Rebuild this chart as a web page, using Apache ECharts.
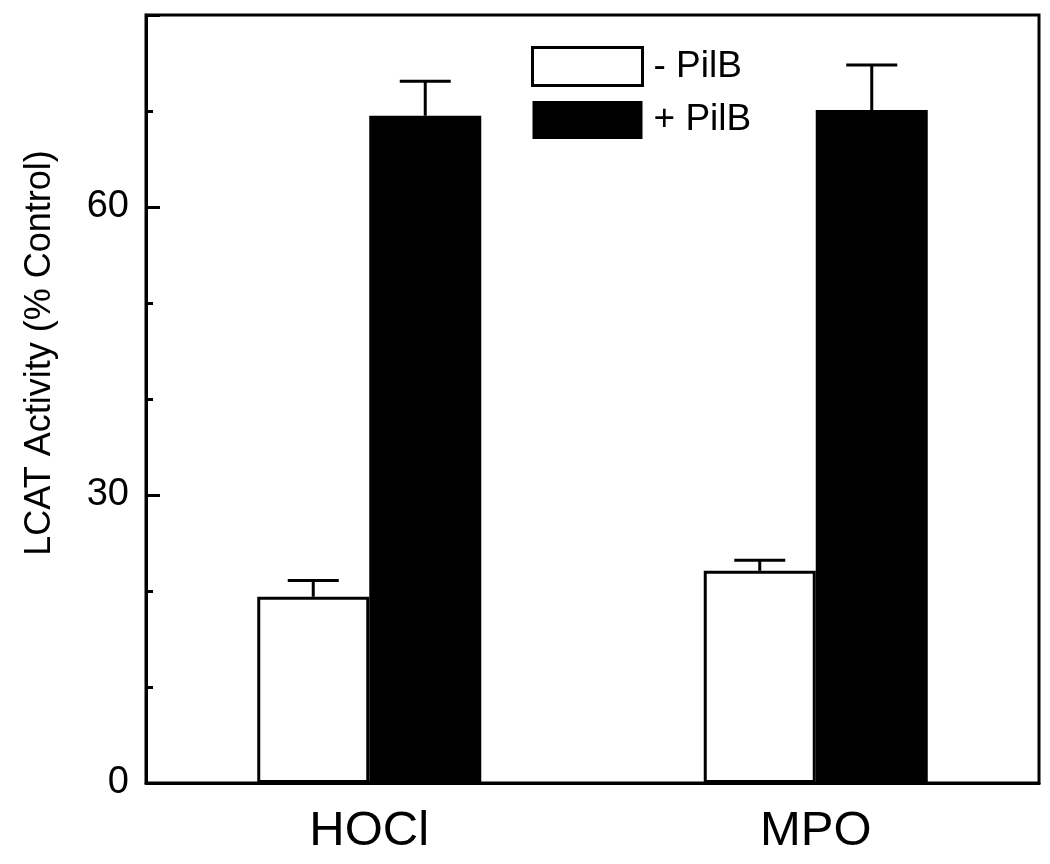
<!DOCTYPE html>
<html><head><meta charset="utf-8">
<script src="https://cdn.jsdelivr.net/npm/echarts@6/dist/echarts.min.js"></script>
<style>html,body{margin:0;padding:0;background:#fff}#c{width:1050px;height:864px}</style>
</head><body><div id="c"></div>
<script>
const categories = ['HOCl', 'MPO'];
const minusPilB = [19.4, 22.1];
const minusPilBErr = [1.7, 1.1];
const plusPilB = [69.5, 70.1];
const plusPilBErr = [3.6, 4.7];
const yMajorLabels = [0, 30, 60];
const seriesNames = ['- PilB', '+ PilB'];

const FONT = 'Liberation Sans, Arial, sans-serif';
const BAR_W = 112;
const CAP_W = 51;

function errSeries(vals, errs, offset) {
  return {
    type: 'custom',
    yAxisIndex: 0,
    z: 5,
    silent: true,
    data: vals.map((v, i) => [i, v, errs[i]]),
    renderItem: function (params, api) {
      const x = api.value(0), v = api.value(1), e = api.value(2);
      const base = api.coord([x, v]);
      const top = api.coord([x, v + e]);
      const cx = base[0] + offset;
      return {
        type: 'group',
        children: [
          { type: 'line', shape: { x1: cx, y1: base[1], x2: cx, y2: top[1] }, style: { stroke: '#000', lineWidth: 3 } },
          { type: 'line', shape: { x1: cx - CAP_W / 2, y1: top[1], x2: cx + CAP_W / 2, y2: top[1] }, style: { stroke: '#000', lineWidth: 3 } }
        ]
      };
    }
  };
}

const chart = echarts.init(document.getElementById('c'));
chart.setOption({
  animation: false,
  backgroundColor: '#fff',
  grid: { left: 146, right: 11, top: 15, bottom: 81, show: true, borderColor: '#000', borderWidth: 3,
    backgroundColor: 'transparent', containLabel: false, outerBoundsMode: 'none' },
  legend: {
    orient: 'vertical', left: 531, top: 46, padding: 0,
    itemWidth: 110, itemHeight: 38, itemGap: 14,
    data: [
      { name: seriesNames[0], icon: 'rect', itemStyle: { color: '#fff', borderColor: '#000', borderWidth: 3 } },
      { name: seriesNames[1], icon: 'rect', itemStyle: { color: '#000' } }
    ],
    textStyle: { fontFamily: FONT, fontSize: 37, color: '#000', padding: [0, 0, 0, 6] },
    selectedMode: false
  },
  xAxis: {
    type: 'category', data: categories, boundaryGap: true,
    axisLine: { lineStyle: { color: '#000', width: 3 } },
    axisTick: { alignWithLabel: true, length: 14, inside: false, lineStyle: { color: '#000', width: 3 } },
    axisLabel: { fontFamily: FONT, fontSize: 49, color: '#000', margin: 24 }
  },
  yAxis: [
    {
      type: 'value', position: 'left', min: 0, max: 80, interval: 10,
      axisLine: { show: true, lineStyle: { color: '#000', width: 3 } },
      axisTick: { show: true, inside: true, length: 7, lineStyle: { color: '#000', width: 3 } },
      axisLabel: { show: false },
      splitLine: { show: false }
    },
    {
      type: 'value', position: 'left', offset: 0, min: 0, max: 80, interval: 30,
      name: 'LCAT Activity (% Control)', nameLocation: 'middle', nameGap: 88,
      nameTextStyle: { fontFamily: FONT, fontSize: 36, color: '#000', padding: [0, 0, 0, 92] },
      axisLine: { show: false },
      axisTick: { show: true, inside: true, length: 14, lineStyle: { color: '#000', width: 3 } },
      axisLabel: { fontFamily: FONT, fontSize: 38, color: '#000', margin: 17,
        formatter: v => yMajorLabels.includes(v) ? String(v) : '' },
      splitLine: { show: false }
    }
  ],
  series: [
    { name: seriesNames[0], type: 'bar', data: minusPilB, barWidth: BAR_W, barGap: '0%',
      itemStyle: { color: '#fff', borderColor: '#000', borderWidth: 3 } },
    { name: seriesNames[1], type: 'bar', data: plusPilB, barWidth: BAR_W, barGap: '0%',
      itemStyle: { color: '#000', borderColor: '#000', borderWidth: 0 } },
    errSeries(minusPilB, minusPilBErr, -BAR_W / 2),
    errSeries(plusPilB, plusPilBErr, BAR_W / 2)
  ]
});
</script></body></html>
